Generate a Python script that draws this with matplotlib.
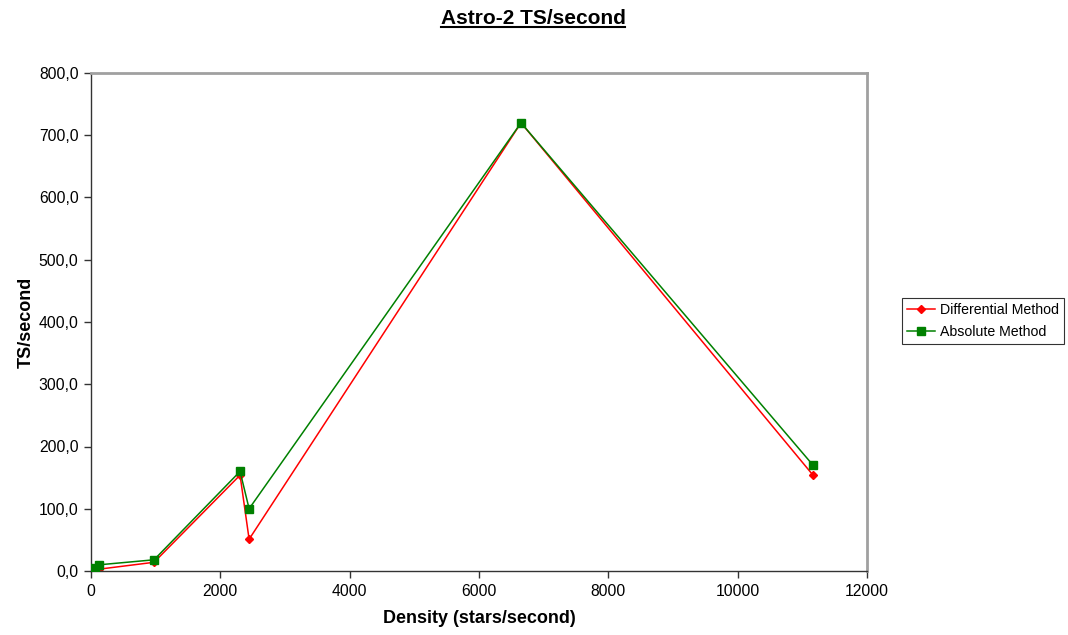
import matplotlib
matplotlib.use("Agg")
import matplotlib.pyplot as plt
from matplotlib.lines import Line2D
from matplotlib.ticker import FuncFormatter, MultipleLocator

plt.rcParams['font.family'] = ['Liberation Sans', 'DejaVu Sans']

density = [60, 130, 975, 2305, 2445, 6650, 11165]
differential = [1, 3, 14, 154, 51, 720, 154]
absolute = [5, 10, 18, 160, 100, 720, 170]

title = "Astro-2 TS/second"
xlabel = "Density (stars/second)"
ylabel = "TS/second"

fig = plt.figure(figsize=(10.68, 6.35), dpi=100)
ax = fig.add_axes([91/1068, 1 - 571/635, (867-91)/1068, (571-73)/635])

ax.plot(density, differential, color='#ff0000', lw=1.1, marker='D', ms=4.5,
        label='Differential Method', zorder=2)
ax.plot(density, absolute, color='#008000', lw=1.1, marker='s', ms=6,
        label='Absolute Method', zorder=3)

ax.set_xlim(0, 12000)
ax.set_ylim(0, 800)
ax.xaxis.set_major_locator(MultipleLocator(2000))
ax.yaxis.set_major_locator(MultipleLocator(100))
ax.yaxis.set_major_formatter(FuncFormatter(lambda v, p: f"{v:.1f}".replace('.', ',')))
ax.tick_params(axis='both', direction='out', length=5, width=1, color='#333333',
               labelsize=11.3, pad=4)

for s in ['top', 'right']:
    ax.spines[s].set_color('#a0a0a0')
    ax.spines[s].set_linewidth(2)
for s in ['left', 'bottom']:
    ax.spines[s].set_color('#333333')
    ax.spines[s].set_linewidth(1)

ax.set_xlabel(xlabel, fontsize=13, fontweight='bold', labelpad=8)
ax.set_ylabel(ylabel, fontsize=13, fontweight='bold', labelpad=3)

leg = fig.legend(loc='center left', bbox_to_anchor=(902/1068, 1 - 321/635),
                 fontsize=10.2, frameon=True, fancybox=False, edgecolor='black',
                 borderpad=0.35, handlelength=2.0, labelspacing=0.55, handletextpad=0.3,
                 borderaxespad=0, markerscale=0.85)
leg.get_frame().set_linewidth(0.8)

t = fig.text(533/1068, 1 - 18/635, title, ha='center', va='center',
             fontsize=15, fontweight='bold')
fig.canvas.draw()
bb = t.get_window_extent().transformed(fig.transFigure.inverted())
fig.add_artist(Line2D([bb.x0, bb.x1], [bb.y0 + 0.001, bb.y0 + 0.001],
                      transform=fig.transFigure, color='black', lw=1.5))

fig.savefig('out.png', dpi=100)
